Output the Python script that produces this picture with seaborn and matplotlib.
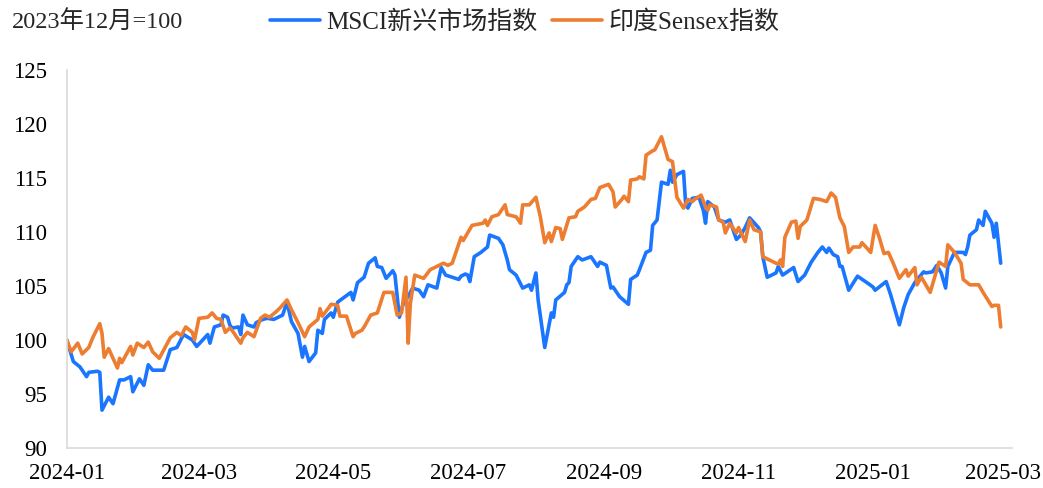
import pandas as pd
import numpy as np
import matplotlib
matplotlib.use("Agg")
import matplotlib.pyplot as plt
import matplotlib.dates as mdates
import seaborn as sns

sns.set_style("white")
plt.rcParams['font.family'] = ['Liberation Serif', 'Noto Sans CJK SC']

# MSCI新兴市场指数 (2023年12月=100)
msci_dates = [
    "2024-01-01", "2024-01-04", "2024-01-07", "2024-01-10", "2024-01-11", "2024-01-15", "2024-01-16",
    "2024-01-17", "2024-01-20", "2024-01-22", "2024-01-25", "2024-01-27", "2024-01-30", "2024-01-31",
    "2024-02-03", "2024-02-05", "2024-02-07", "2024-02-09", "2024-02-14", "2024-02-17", "2024-02-20",
    "2024-02-23", "2024-02-27", "2024-02-29", "2024-03-05", "2024-03-06", "2024-03-08", "2024-03-11",
    "2024-03-12", "2024-03-14", "2024-03-15", "2024-03-16", "2024-03-19", "2024-03-20", "2024-03-21",
    "2024-03-23", "2024-03-26", "2024-03-27", "2024-03-30", "2024-04-01", "2024-04-04", "2024-04-06",
    "2024-04-08", "2024-04-10", "2024-04-12", "2024-04-15", "2024-04-17", "2024-04-18", "2024-04-20",
    "2024-04-23", "2024-04-24", "2024-04-26", "2024-04-27", "2024-04-30", "2024-05-01", "2024-05-03",
    "2024-05-09", "2024-05-10", "2024-05-12", "2024-05-15", "2024-05-17", "2024-05-20", "2024-05-21",
    "2024-05-23", "2024-05-25", "2024-05-28", "2024-05-29", "2024-05-31", "2024-06-02", "2024-06-04",
    "2024-06-06", "2024-06-09", "2024-06-11", "2024-06-13", "2024-06-17", "2024-06-19", "2024-06-21",
    "2024-06-24", "2024-06-27", "2024-06-28", "2024-06-30", "2024-07-01", "2024-07-02", "2024-07-04",
    "2024-07-07", "2024-07-10", "2024-07-11", "2024-07-15", "2024-07-17", "2024-07-19", "2024-07-20",
    "2024-07-23", "2024-07-24", "2024-07-26", "2024-07-29", "2024-07-30", "2024-08-01", "2024-08-02",
    "2024-08-05", "2024-08-08", "2024-08-09", "2024-08-10", "2024-08-14", "2024-08-15", "2024-08-16",
    "2024-08-17", "2024-08-20", "2024-08-22", "2024-08-26", "2024-08-29", "2024-08-30", "2024-09-02",
    "2024-09-04", "2024-09-05", "2024-09-08", "2024-09-12", "2024-09-13", "2024-09-16", "2024-09-17",
    "2024-09-20", "2024-09-22", "2024-09-23", "2024-09-25", "2024-09-27", "2024-09-30", "2024-10-01",
    "2024-10-02", "2024-10-04", "2024-10-07", "2024-10-08", "2024-10-09", "2024-10-11", "2024-10-14",
    "2024-10-16", "2024-10-17", "2024-10-18", "2024-10-21", "2024-10-23", "2024-10-26", "2024-10-28",
    "2024-10-31", "2024-11-02", "2024-11-04", "2024-11-06", "2024-11-10", "2024-11-11", "2024-11-12",
    "2024-11-14", "2024-11-18", "2024-11-19", "2024-11-21", "2024-11-26", "2024-11-28", "2024-12-01",
    "2024-12-04", "2024-12-07", "2024-12-09", "2024-12-11", "2024-12-12", "2024-12-14", "2024-12-16",
    "2024-12-17", "2024-12-18", "2024-12-21", "2024-12-25", "2024-12-30", "2025-01-01", "2025-01-02",
    "2025-01-07", "2025-01-09", "2025-01-13", "2025-01-15", "2025-01-17", "2025-01-20", "2025-01-24",
    "2025-01-25", "2025-01-28", "2025-01-30", "2025-02-01", "2025-02-03", "2025-02-04", "2025-02-07",
    "2025-02-11", "2025-02-12", "2025-02-13", "2025-02-14", "2025-02-17", "2025-02-18", "2025-02-20",
    "2025-02-21", "2025-02-24", "2025-02-25", "2025-02-26", "2025-02-28",
]
msci_values = [
    100.0, 98.0, 97.5, 96.6, 97.0, 97.1, 97.0,
    93.5, 94.7, 94.1, 96.3, 96.3, 96.6, 95.2,
    96.4, 95.8, 97.7, 97.2, 97.2, 99.1, 99.3,
    100.5, 100.0, 99.4, 100.5, 99.7, 101.2, 101.4,
    102.3, 102.1, 101.4, 101.1, 101.2, 100.5, 102.3,
    101.4, 101.2, 101.6, 101.9, 102.0, 101.9, 102.1,
    102.3, 103.5, 101.7, 100.6, 98.4, 99.4, 98.0,
    98.8, 100.9, 100.6, 101.9, 102.5, 102.1, 103.5,
    104.4, 103.7, 105.3, 105.8, 107.1, 107.6, 106.8,
    106.7, 105.7, 106.4, 106.0, 102.1, 103.5, 104.0,
    104.8, 104.6, 104.0, 105.1, 104.8, 106.7, 106.0,
    105.8, 105.6, 105.9, 106.1, 106.0, 105.4, 107.7,
    108.1, 108.6, 109.7, 109.4, 108.8, 107.4, 106.5,
    106.0, 105.6, 104.8, 105.1, 104.6, 106.2, 103.7,
    99.3, 102.5, 102.1, 103.7, 104.4, 105.1, 105.3,
    106.8, 107.7, 107.4, 107.7, 106.8, 107.2, 106.9,
    104.8, 104.9, 104.0, 103.3, 105.6, 106.0, 106.5,
    108.1, 108.3, 110.6, 111.1, 114.6, 114.4, 115.7,
    114.6, 115.3, 115.6, 112.5, 112.2, 113.1, 113.2,
    112.0, 110.8, 112.8, 112.3, 111.1, 110.9, 111.1,
    109.3, 109.7, 110.4, 111.3, 110.4, 110.0, 107.7,
    105.8, 106.2, 106.8, 106.0, 106.7, 105.4, 106.0,
    107.2, 108.1, 108.6, 108.1, 108.5, 107.9, 107.7,
    106.8, 106.8, 104.6, 105.9, 105.2, 104.9, 104.6,
    105.4, 104.2, 101.4, 103.0, 104.2, 105.3, 106.3,
    106.2, 106.3, 106.9, 106.2, 104.8, 106.8, 108.1,
    108.1, 107.9, 108.6, 109.7, 110.2, 111.1, 110.6,
    111.9, 110.8, 109.5, 110.8, 107.1,
]

# 印度Sensex指数 (2023年12月=100)
sensex_dates = [
    "2024-01-01", "2024-01-03", "2024-01-06", "2024-01-08", "2024-01-11", "2024-01-13", "2024-01-16",
    "2024-01-17", "2024-01-18", "2024-01-20", "2024-01-24", "2024-01-25", "2024-01-26", "2024-01-30",
    "2024-01-31", "2024-02-02", "2024-02-05", "2024-02-07", "2024-02-09", "2024-02-12", "2024-02-17",
    "2024-02-20", "2024-02-22", "2024-02-24", "2024-02-27", "2024-02-28", "2024-03-01", "2024-03-05",
    "2024-03-07", "2024-03-09", "2024-03-11", "2024-03-13", "2024-03-15", "2024-03-16", "2024-03-20",
    "2024-03-21", "2024-03-23", "2024-03-26", "2024-03-29", "2024-03-31", "2024-04-02", "2024-04-05",
    "2024-04-07", "2024-04-10", "2024-04-12", "2024-04-15", "2024-04-18", "2024-04-20", "2024-04-24",
    "2024-04-25", "2024-04-26", "2024-04-29", "2024-04-30", "2024-05-03", "2024-05-04", "2024-05-07",
    "2024-05-10", "2024-05-11", "2024-05-14", "2024-05-15", "2024-05-18", "2024-05-21", "2024-05-24",
    "2024-05-28", "2024-05-30", "2024-06-01", "2024-06-03", "2024-06-04", "2024-06-05", "2024-06-07",
    "2024-06-11", "2024-06-14", "2024-06-17", "2024-06-20", "2024-06-22", "2024-06-24", "2024-06-28",
    "2024-06-29", "2024-07-01", "2024-07-03", "2024-07-08", "2024-07-09", "2024-07-10", "2024-07-12",
    "2024-07-15", "2024-07-18", "2024-07-19", "2024-07-23", "2024-07-25", "2024-07-26", "2024-07-29",
    "2024-08-01", "2024-08-03", "2024-08-05", "2024-08-07", "2024-08-08", "2024-08-10", "2024-08-12",
    "2024-08-13", "2024-08-16", "2024-08-19", "2024-08-20", "2024-08-23", "2024-08-26", "2024-08-28",
    "2024-08-30", "2024-09-03", "2024-09-05", "2024-09-06", "2024-09-09", "2024-09-10", "2024-09-12",
    "2024-09-13", "2024-09-16", "2024-09-17", "2024-09-19", "2024-09-20", "2024-09-23", "2024-09-24",
    "2024-09-27", "2024-09-30", "2024-10-02", "2024-10-04", "2024-10-07", "2024-10-09", "2024-10-11",
    "2024-10-12", "2024-10-15", "2024-10-17", "2024-10-18", "2024-10-19", "2024-10-22", "2024-10-23",
    "2024-10-25", "2024-10-26", "2024-10-28", "2024-10-31", "2024-11-01", "2024-11-04", "2024-11-06",
    "2024-11-08", "2024-11-11", "2024-11-12", "2024-11-13", "2024-11-19", "2024-11-20", "2024-11-21",
    "2024-11-22", "2024-11-25", "2024-11-27", "2024-11-28", "2024-11-29", "2024-12-02", "2024-12-05",
    "2024-12-08", "2024-12-11", "2024-12-13", "2024-12-15", "2024-12-17", "2024-12-19", "2024-12-21",
    "2024-12-23", "2024-12-26", "2024-12-27", "2024-12-31", "2025-01-02", "2025-01-04", "2025-01-06",
    "2025-01-08", "2025-01-10", "2025-01-13", "2025-01-16", "2025-01-17", "2025-01-20", "2025-01-21",
    "2025-01-23", "2025-01-27", "2025-01-31", "2025-02-03", "2025-02-04", "2025-02-07", "2025-02-10",
    "2025-02-11", "2025-02-14", "2025-02-18", "2025-02-20", "2025-02-24", "2025-02-25", "2025-02-27",
    "2025-02-28",
]
sensex_values = [
    100.0, 98.9, 99.7, 98.7, 99.3, 100.3, 101.5,
    100.6, 98.4, 99.2, 97.4, 98.3, 97.9, 99.4,
    98.6, 99.7, 99.3, 99.8, 98.9, 98.3, 100.2,
    100.7, 100.4, 101.2, 100.7, 100.0, 102.0, 102.1,
    102.5, 102.0, 101.9, 100.7, 101.1, 100.9, 99.7,
    100.2, 100.7, 100.3, 102.0, 102.3, 102.1, 102.6,
    103.0, 103.7, 102.8, 101.6, 100.3, 101.2, 101.9,
    102.9, 102.2, 103.0, 103.3, 103.2, 102.2, 102.2,
    100.3, 100.6, 100.9, 101.2, 102.3, 102.5, 104.4,
    104.4, 102.3, 102.5, 105.8, 99.7, 103.4, 106.0,
    105.7, 106.5, 106.8, 107.1, 106.9, 107.1, 109.5,
    109.2, 109.9, 110.6, 110.8, 111.1, 110.6, 111.4,
    111.6, 112.5, 111.6, 111.4, 110.8, 112.5, 112.5,
    113.2, 111.4, 109.0, 109.9, 109.1, 110.4, 110.3,
    109.3, 111.3, 111.4, 111.9, 112.3, 113.0, 113.1,
    114.1, 114.4, 113.7, 112.3, 113.0, 113.3, 112.8,
    114.8, 114.9, 115.1, 114.9, 117.1, 117.5, 117.6,
    118.8, 116.7, 116.5, 113.2, 112.2, 113.0, 112.8,
    113.0, 113.4, 112.3, 112.0, 112.5, 112.3, 111.1,
    110.9, 109.9, 110.8, 109.9, 110.4, 109.1, 111.1,
    110.2, 110.0, 107.7, 107.6, 107.0, 107.4, 106.8,
    109.5, 110.9, 111.0, 109.4, 110.5, 111.1, 113.1,
    113.0, 112.8, 113.6, 113.2, 111.3, 110.5, 108.1,
    108.6, 108.6, 109.0, 108.1, 110.6, 109.4, 108.0,
    108.1, 107.2, 105.7, 106.5, 105.9, 106.7, 105.1,
    105.8, 104.4, 107.2, 106.8, 108.8, 108.1, 107.1,
    105.6, 105.1, 105.1, 104.4, 103.1, 103.2, 103.2,
    101.2,
]

msci_label = "MSCI新兴市场指数"
sensex_label = "印度Sensex指数"
y_ticks = [90, 95, 100, 105, 110, 115, 120, 125]

msci = pd.DataFrame({"date": pd.to_datetime(msci_dates), "value": msci_values})
sensex = pd.DataFrame({"date": pd.to_datetime(sensex_dates), "value": sensex_values})

fig = plt.figure(figsize=(10.43, 4.88), dpi=100)
ax = fig.add_axes([0.064, 0.082, 0.906, 0.775])

sns.lineplot(data=msci, x="date", y="value", ax=ax, color="#1a75ff", lw=2.6, label=msci_label)
sns.lineplot(data=sensex, x="date", y="value", ax=ax, color="#ed7d31", lw=2.6, label=sensex_label)

ax.set_ylim(90, 125)
ax.set_yticks(y_ticks)
ax.set_xlim(pd.Timestamp("2024-01-01"), pd.Timestamp("2025-03-05"))
ax.xaxis.set_major_locator(mdates.MonthLocator(bymonth=[1, 3, 5, 7, 9, 11]))
ax.xaxis.set_major_formatter(mdates.DateFormatter("%Y-%m"))
ax.set_xlabel("")
ax.set_ylabel("")

for s in ["top", "right"]:
    ax.spines[s].set_visible(False)
for s in ["left", "bottom"]:
    ax.spines[s].set_color("#d9d9d9")
    ax.spines[s].set_linewidth(1.2)
ax.tick_params(axis="both", labelsize=16.5, colors="#d9d9d9", labelcolor="black",
               length=5, width=1.2, direction="out")
ax.tick_params(axis="x", pad=6)
ax.tick_params(axis="y", pad=9)

handles, labels = ax.get_legend_handles_labels()
ax.get_legend().remove()
fig.legend(handles, labels, loc="upper center", bbox_to_anchor=(0.503, 1.025), ncol=2,
           frameon=False, fontsize=18, handlelength=2.0, columnspacing=0.6, handletextpad=0.25)

fig.text(0.011, 0.955, "2023年12月=100", fontsize=17.5, va="center", ha="left")

fig.savefig("out.png", dpi=100)
